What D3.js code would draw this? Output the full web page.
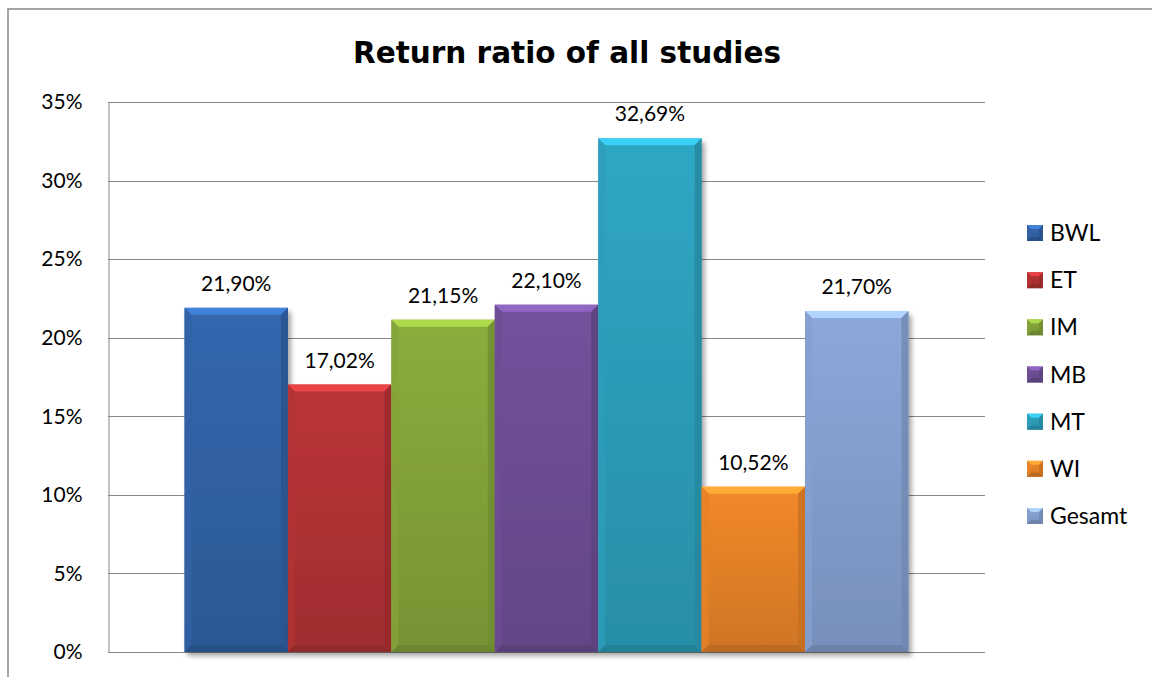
<!DOCTYPE html>
<html>
<head>
<meta charset="utf-8">
<script src="https://cdn.jsdelivr.net/npm/d3@7"></script>
<style>
html,body{margin:0;padding:0;background:#fff;}
svg{display:block;}
</style>
</head>
<body>
<svg id="chart" width="1152" height="677"></svg>
<script>
const seriesNames = ["BWL","ET","IM","MB","MT","WI","Gesamt"];
const seriesValues = [21.90, 17.02, 21.15, 22.10, 32.69, 10.52, 21.70];
const seriesColors = ["#3467ae","#bb3537","#8aad3d","#73529c","#2fa7c4","#f3892a","#8ca8da"];
const tickValues = [0,5,10,15,20,25,30,35];
const categories = ["all"];

const svg = d3.select("#chart");
const m = {left:108, right:985, top:102, bottom:652};
const FONT = "Lato, 'Open Sans', sans-serif";

svg.append("rect").attr("x",8).attr("y",9).attr("width",1160).attr("height",700)
  .attr("fill","#fff").attr("stroke","#878787").attr("stroke-width",1.5);

const y = d3.scaleLinear().domain([0,35]).range([m.bottom, m.top]);
const x0 = d3.scaleBand().domain(categories).range([m.left, m.right]).paddingInner(0).paddingOuter(0.1057);
const x1 = d3.scaleBand().domain(seriesNames).range([0, x0.bandwidth()]).padding(0);

svg.append("g").selectAll("line").data(tickValues).join("line")
  .attr("x1",m.left).attr("x2",m.right)
  .attr("y1",d=>Math.round(y(d))+0.5).attr("y2",d=>Math.round(y(d))+0.5)
  .attr("stroke","#878787").attr("stroke-width",1);

const yAxis = d3.axisLeft(y).tickValues(tickValues).tickFormat(d=>d+"%").tickSize(0).tickPadding(26);
const ga = svg.append("g").attr("transform",`translate(${m.left+0.5},0)`).call(yAxis);
ga.select(".domain").attr("stroke","#878787");
ga.selectAll("text").attr("font-family",FONT).attr("font-size",21).attr("fill","#000");

const defs = svg.append("defs");
const f = defs.append("filter").attr("id","shadow").attr("x","-10%").attr("y","-10%").attr("width","130%").attr("height","130%");
f.append("feGaussianBlur").attr("in","SourceAlpha").attr("stdDeviation",2.5);
f.append("feOffset").attr("dx",3).attr("dy",4).attr("result","ob");
f.append("feComponentTransfer").append("feFuncA").attr("type","linear").attr("slope",0.35);
const fm = f.append("feMerge"); fm.append("feMergeNode"); fm.append("feMergeNode").attr("in","SourceGraphic");

seriesColors.forEach((c,i)=>{
  const g = defs.append("linearGradient").attr("id","g"+i).attr("x1",0).attr("y1",0).attr("x2",0).attr("y2",1);
  g.append("stop").attr("offset","0%").attr("stop-color",c);
  g.append("stop").attr("offset","100%").attr("stop-color",d3.color(c).darker(0.45));
});

function bevel(g, x, yt, w, h, c, i, b){
  const col = d3.color(c);
  g.append("rect").attr("x",x).attr("y",yt).attr("width",w).attr("height",h).attr("fill",`url(#g${i})`);
  g.append("path").attr("d",`M${x},${yt}L${x+w},${yt}L${x+w-b},${yt+b}L${x+b},${yt+b}Z`).attr("fill",col.brighter(0.7)).attr("opacity",0.9);
  g.append("path").attr("d",`M${x},${yt}L${x+b},${yt+b}L${x+b},${yt+h-b}L${x},${yt+h}Z`).attr("fill",col.darker(0.15)).attr("opacity",0.8);
  g.append("path").attr("d",`M${x+w},${yt}L${x+w-b},${yt+b}L${x+w-b},${yt+h-b}L${x+w},${yt+h}Z`).attr("fill",col.darker(0.6)).attr("opacity",0.8);
  g.append("path").attr("d",`M${x},${yt+h}L${x+b},${yt+h-b}L${x+w-b},${yt+h-b}L${x+w},${yt+h}Z`).attr("fill",col.darker(0.8)).attr("opacity",0.8);
}

const bars = svg.append("g").attr("transform",`translate(${x0("all")},0)`);
seriesNames.forEach((s,i)=>{
  const g = bars.append("g").attr("filter","url(#shadow)");
  const bx = x1(s), bw = x1.bandwidth();
  const yt = y(seriesValues[i]);
  bevel(g, bx, yt, bw, m.bottom - yt, seriesColors[i], i, 7);
  bars.append("text").attr("x",bx+bw/2).attr("y",yt-17)
    .attr("text-anchor","middle").attr("font-family",FONT).attr("font-size",21)
    .text(seriesValues[i].toFixed(2).replace(".",",")+"%");
});

svg.append("text").attr("x",567).attr("y",63).attr("text-anchor","middle")
  .attr("font-family","'DejaVu Sans', Verdana, sans-serif").attr("font-weight","bold").attr("font-size",29.5)
  .text("Return ratio of all studies");

const ly = d3.scalePoint().domain(seriesNames).range([233,516]);
const lg = svg.append("g");
seriesNames.forEach((s,i)=>{
  const g = lg.append("g");
  bevel(g, 1027, ly(s)-8, 16, 16, seriesColors[i], i, 4);
  lg.append("text").attr("x",1050).attr("y",ly(s)+8)
    .attr("font-family",FONT).attr("font-size",23).text(s);
});
</script>
</body>
</html>
